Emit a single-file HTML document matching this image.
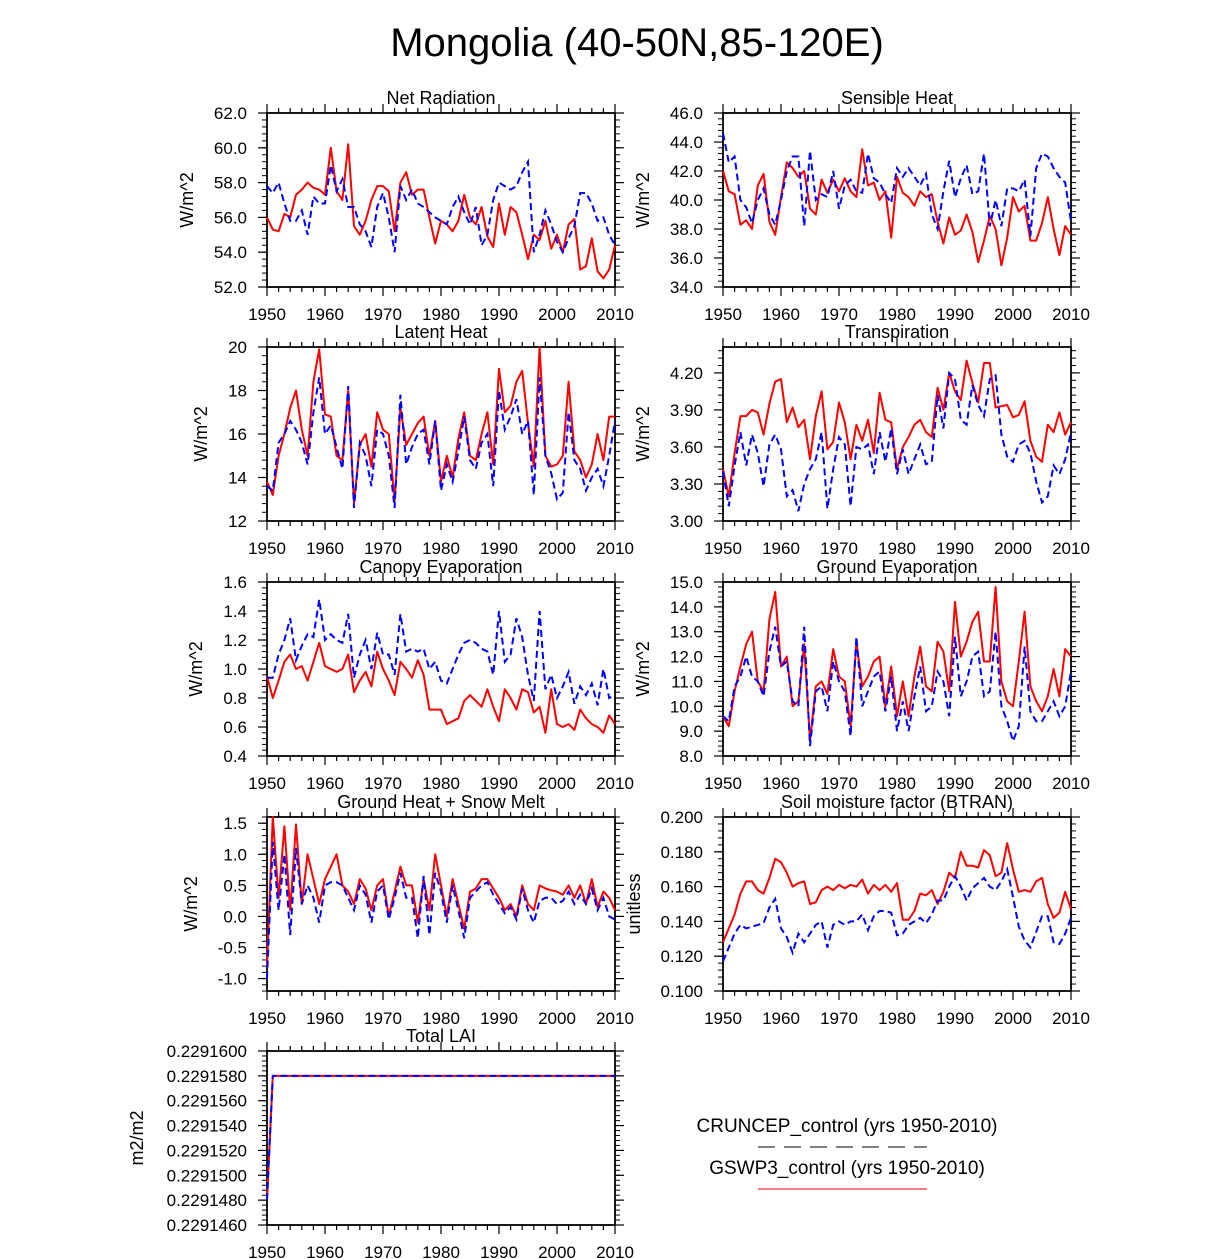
<!DOCTYPE html>
<html><head><meta charset="utf-8"><style>
body{margin:0;background:#fff;}
svg{display:block;font-family:"Liberation Sans",Arial,sans-serif;}
</style></head><body>
<svg id="chart" width="1224" height="1259" viewBox="0 0 1224 1259">
<text x="637" y="56" font-size="40" text-anchor="middle">Mongolia (40-50N,85-120E)</text>
<g>
<text x="847" y="1132" font-size="19" text-anchor="middle">CRUNCEP_control (yrs 1950-2010)</text>
<line x1="758" y1="1147" x2="927" y2="1147" stroke="#000" stroke-width="1" stroke-dasharray="17,9"/>
<text x="847" y="1174" font-size="19" text-anchor="middle">GSWP3_control (yrs 1950-2010)</text>
<line x1="758" y1="1189" x2="927" y2="1189" stroke="#e00" stroke-width="1"/>
</g>
</svg>
<script>
const years0 = 1950;
const xTicks = [1950,1960,1970,1980,1990,2000,2010];
const nrRed=[56.0,55.3,55.2,56.2,56.0,57.3,57.6,58.0,57.7,57.6,57.3,60.0,57.5,57.0,60.2,55.5,55.0,55.8,57.0,57.8,57.8,57.5,55.2,58.0,58.6,57.3,57.6,57.6,56.0,54.5,55.8,55.6,55.2,55.8,57.3,56.0,55.6,56.6,54.9,54.3,56.8,55.0,56.6,56.3,55.0,53.6,55.0,54.7,55.8,54.2,55.0,54.0,55.6,55.9,53.0,53.2,54.8,52.9,52.5,53.0,54.4];
const nrBlue=[57.8,57.4,58.0,56.8,55.8,55.8,56.4,55.0,57.2,56.8,56.8,59.0,57.5,58.2,56.6,56.6,55.6,55.2,54.3,56.6,57.4,56.0,54.0,57.8,57.0,57.6,56.8,56.6,56.3,56.0,55.8,55.6,56.6,57.2,56.3,55.6,56.6,54.4,55.0,57.0,58.0,57.8,57.6,57.8,58.6,59.2,54.0,55.0,56.4,55.6,54.6,54.0,54.8,55.5,57.4,57.4,56.8,55.8,56.0,55.0,54.4];
const shRed=[42.0,40.6,40.4,38.3,38.6,38.0,41.0,41.8,38.5,37.6,40.2,42.6,42.2,41.6,42.0,39.4,39.0,41.4,40.5,41.4,40.6,41.5,40.6,40.2,43.5,41.0,41.2,40.0,40.6,37.4,41.6,40.5,40.2,39.6,40.6,40.2,40.4,38.5,37.0,38.8,37.6,37.9,39.0,37.8,35.7,37.2,38.9,38.0,35.5,37.4,40.2,39.2,39.6,37.2,37.2,38.4,40.2,38.0,36.2,38.2,37.6];
const shBlue=[44.6,42.6,43.0,40.0,39.5,38.4,40.0,40.8,39.0,38.3,40.0,42.0,43.0,43.0,38.2,43.4,40.0,40.4,40.2,42.0,39.4,41.0,41.4,40.6,40.5,43.2,41.5,41.2,40.4,39.8,42.2,41.6,42.2,41.6,41.0,41.8,39.0,38.0,40.6,42.7,40.2,41.5,42.4,40.4,40.6,43.2,38.2,40.0,38.2,40.8,40.8,40.6,41.4,37.5,42.2,43.2,43.0,42.2,41.6,41.2,38.5];
const lhRed=[13.8,13.2,15.0,16.0,17.2,18.0,16.2,15.0,18.4,19.9,16.9,16.8,15.0,14.8,18.0,12.8,15.5,16.0,14.5,17.0,16.2,16.0,12.9,17.2,15.5,16.0,16.5,16.8,15.0,16.6,13.8,15.0,14.0,15.8,17.0,15.0,14.8,16.0,17.0,14.6,19.0,17.0,17.3,18.4,18.9,16.5,14.5,20.0,15.0,14.5,14.6,15.0,18.4,15.2,14.8,14.0,14.6,16.0,14.8,16.8,16.8];
const lhBlue=[13.6,13.4,15.6,16.0,16.6,16.2,15.6,14.6,17.0,18.6,16.0,16.4,15.4,14.4,18.2,12.6,15.6,15.0,13.6,16.2,16.0,15.0,12.6,17.8,14.6,15.4,16.0,16.2,14.6,16.6,13.4,14.6,13.8,15.2,16.8,14.8,14.4,15.6,16.0,13.6,18.0,16.2,16.8,17.6,16.0,16.6,13.2,18.6,15.0,14.2,13.0,13.3,17.0,14.8,14.4,13.4,14.0,14.4,13.6,15.0,16.6];
const trRed=[3.42,3.20,3.55,3.85,3.85,3.90,3.88,3.70,3.95,4.13,4.15,3.80,3.92,3.76,3.82,3.50,3.85,4.05,3.58,3.64,3.96,3.80,3.50,3.78,3.65,3.82,3.55,4.04,3.82,3.80,3.42,3.60,3.68,3.78,3.82,3.72,3.68,4.08,3.90,4.20,4.05,3.98,4.30,4.12,3.96,4.28,4.28,3.92,3.93,3.94,3.84,3.86,3.97,3.65,3.52,3.48,3.78,3.72,3.88,3.70,3.80];
const trBlue=[3.40,3.12,3.45,3.72,3.45,3.70,3.55,3.28,3.62,3.70,3.58,3.20,3.25,3.08,3.30,3.42,3.50,3.72,3.10,3.42,3.68,3.62,3.12,3.60,3.58,3.62,3.38,3.72,3.48,3.75,3.38,3.58,3.38,3.50,3.62,3.46,3.48,4.02,3.75,4.20,4.15,3.82,3.78,4.10,3.94,3.85,4.15,4.18,3.70,3.52,3.48,3.62,3.65,3.55,3.32,3.15,3.20,3.45,3.38,3.50,3.72];
const ceRed=[0.95,0.80,0.92,1.05,1.10,1.00,1.02,0.92,1.05,1.18,1.02,1.00,0.98,1.00,1.10,0.84,0.92,0.98,0.88,1.12,1.00,0.92,0.82,1.05,1.00,0.94,1.06,0.96,0.72,0.72,0.72,0.62,0.64,0.66,0.78,0.82,0.78,0.74,0.86,0.74,0.64,0.86,0.80,0.72,0.86,0.84,0.70,0.74,0.56,0.86,0.62,0.60,0.62,0.58,0.72,0.66,0.62,0.60,0.56,0.68,0.62];
const ceBlue=[0.94,0.94,1.10,1.20,1.35,1.06,1.16,1.24,1.22,1.48,1.20,1.24,1.20,1.18,1.38,0.94,1.10,1.20,1.00,1.25,1.10,1.10,0.96,1.38,1.12,1.14,1.12,1.14,1.00,1.05,0.92,0.90,1.00,1.10,1.18,1.20,1.18,1.14,1.12,0.96,1.40,1.05,1.10,1.35,1.22,0.96,0.78,1.40,0.86,0.96,0.80,0.88,0.98,0.76,0.88,0.82,0.90,0.75,1.00,0.80,0.82];
const geRed=[9.6,9.2,10.6,11.6,12.5,13.0,11.0,10.6,13.5,14.6,11.6,12.0,10.0,10.2,12.5,8.6,10.8,11.0,10.5,12.3,11.2,11.0,9.2,12.6,10.8,11.2,11.8,12.0,10.0,11.6,9.6,11.0,9.6,11.2,12.4,10.8,10.6,12.6,12.2,10.6,14.2,12.0,12.6,13.4,13.8,11.8,11.8,14.8,11.0,10.2,10.0,11.8,13.8,10.8,10.2,9.8,10.4,11.5,10.4,12.3,12.0];
const geBlue=[9.6,9.4,10.8,11.2,12.0,11.2,11.0,10.4,12.2,13.2,11.6,11.8,10.2,10.0,13.2,8.4,10.6,10.8,9.8,11.8,11.0,10.6,8.8,12.8,10.0,10.6,11.2,11.4,9.8,11.2,9.0,10.2,9.0,10.4,11.6,9.8,10.0,11.4,11.0,9.6,12.8,10.4,11.0,12.0,12.2,10.4,10.6,13.0,10.0,9.4,8.6,9.2,12.4,9.8,9.4,9.4,9.8,10.2,9.6,10.0,11.4];
const ghRed=[-0.8,1.6,0.3,1.45,0.1,1.48,0.2,1.0,0.6,0.2,0.6,0.8,1.0,0.5,0.4,0.2,0.6,0.45,0.1,0.5,0.6,0.0,0.4,0.8,0.5,0.5,-0.1,0.6,0.1,1.0,0.5,0.0,0.6,0.2,-0.2,0.4,0.45,0.6,0.6,0.45,0.3,0.1,0.2,0.0,0.5,0.2,0.1,0.5,0.45,0.42,0.4,0.35,0.5,0.3,0.5,0.2,0.6,0.15,0.4,0.3,0.1];
const ghBlue=[-1.0,1.2,0.1,1.0,-0.3,1.1,0.2,0.5,0.3,-0.1,0.5,0.55,0.55,0.5,0.3,0.1,0.5,0.35,-0.1,0.4,0.5,-0.05,0.3,0.7,0.3,0.3,-0.35,0.65,-0.3,0.7,0.4,-0.1,0.5,0.1,-0.35,0.3,0.4,0.5,0.55,0.35,0.2,0.05,0.15,-0.05,0.45,0.1,-0.1,0.25,0.3,0.3,0.2,0.25,0.4,0.2,0.35,0.2,0.45,0.1,0.3,0.0,-0.05];
const btRed=[0.128,0.136,0.144,0.156,0.163,0.163,0.158,0.156,0.165,0.176,0.174,0.168,0.160,0.162,0.163,0.150,0.151,0.158,0.160,0.158,0.161,0.159,0.161,0.160,0.164,0.156,0.161,0.158,0.161,0.157,0.162,0.141,0.141,0.146,0.156,0.155,0.158,0.150,0.157,0.168,0.165,0.180,0.172,0.172,0.171,0.181,0.178,0.166,0.168,0.185,0.170,0.157,0.158,0.157,0.163,0.165,0.150,0.142,0.145,0.157,0.147];
const btBlue=[0.117,0.125,0.133,0.138,0.136,0.137,0.138,0.139,0.148,0.153,0.136,0.131,0.122,0.133,0.128,0.133,0.138,0.140,0.125,0.138,0.140,0.138,0.140,0.140,0.144,0.135,0.143,0.146,0.146,0.145,0.132,0.133,0.138,0.140,0.142,0.139,0.144,0.152,0.152,0.160,0.166,0.160,0.152,0.159,0.162,0.165,0.160,0.158,0.163,0.170,0.154,0.137,0.129,0.125,0.134,0.143,0.143,0.128,0.127,0.133,0.142];
const laiRed=[0.229148].concat(new Array(60).fill(0.229158));
const laiBlue=[0.229148].concat(new Array(60).fill(0.229158));

const NS='http://www.w3.org/2000/svg';
const svg=document.getElementById('chart');
function mk(tag,attrs,parent){const e=document.createElementNS(NS,tag);for(const k in attrs)e.setAttribute(k,attrs[k]);(parent||svg).appendChild(e);return e;}

const panels=[
 {name:'net-radiation',title:'Net Radiation',x:267,y:113,ymin:52,ymax:62,step:2,dec:1,unit:'W/m^2',lx:193,red:nrRed,blue:nrBlue},
 {name:'sensible-heat',title:'Sensible Heat',x:723,y:113,ymin:34,ymax:46,step:2,dec:1,unit:'W/m^2',lx:649,red:shRed,blue:shBlue},
 {name:'latent-heat',title:'Latent Heat',x:267,y:347,ymin:12,ymax:20,step:2,dec:0,unit:'W/m^2',lx:207,red:lhRed,blue:lhBlue},
 {name:'transpiration',title:'Transpiration',x:723,y:347,ymin:3.0,ymax:4.41,step:0.3,dec:2,unit:'W/m^2',lx:649,red:trRed,blue:trBlue,tmax:4.2},
 {name:'canopy-evaporation',title:'Canopy Evaporation',x:267,y:582,ymin:0.4,ymax:1.6,step:0.2,dec:1,unit:'W/m^2',lx:202,red:ceRed,blue:ceBlue},
 {name:'ground-evaporation',title:'Ground Evaporation',x:723,y:582,ymin:8,ymax:15,step:1,dec:1,unit:'W/m^2',lx:649,red:geRed,blue:geBlue},
 {name:'ground-heat-snow-melt',title:'Ground Heat + Snow Melt',x:267,y:817,ymin:-1.2,ymax:1.6,step:0.5,dec:1,unit:'W/m^2',lx:197,red:ghRed,blue:ghBlue,tmin:-1.0,tmax:1.5},
 {name:'soil-moisture-factor',title:'Soil moisture factor (BTRAN)',x:723,y:817,ymin:0.1,ymax:0.2,step:0.02,dec:3,unit:'unitless',lx:640,red:btRed,blue:btBlue},
 {name:'total-lai',title:'Total LAI',x:267,y:1051,ymin:0.229146,ymax:0.22916,step:0.000002,dec:7,unit:'m2/m2',lx:143,red:laiRed,blue:laiBlue}
];
const W=348,H=174;
panels.forEach(p=>{
 const g=mk('g',{});
 
 
 const xs=yr=>p.x+(yr-1950)/60*W;
 const ys=v=>p.y+H-(v-p.ymin)/(p.ymax-p.ymin)*H;
 const t=mk('text',{x:p.x+W/2,y:p.y-9,'font-size':18,'text-anchor':'middle'},g);
 t.textContent=p.title;
 
 
 const yl=mk('text',{x:p.lx,y:p.y+H/2,'font-size':18,'text-anchor':'middle',transform:`rotate(-90 ${p.lx} ${p.y+H/2})`},g);
 yl.textContent=p.unit;
 
 
 for(let yr=1950;yr<=2010;yr+=2){
  const major=(yr%10===0), L=major?9:5, X=xs(yr);
  mk('line',{x1:X,y1:p.y+H,x2:X,y2:p.y+H+L,stroke:'#000','stroke-width':1.2},g);
  mk('line',{x1:X,y1:p.y,x2:X,y2:p.y-L,stroke:'#000','stroke-width':1.2},g);
 }
 xTicks.forEach(yr=>{
  const tx=mk('text',{x:xs(yr),y:p.y+H+33,'font-size':17,'text-anchor':'middle'},g);
  tx.textContent=String(yr);
  
  
 });
 const tmin=p.tmin!==undefined?p.tmin:p.ymin, tmax=p.tmax!==undefined?p.tmax:p.ymax;
 const nMaj=Math.round((tmax-tmin)/p.step);
 for(let i=0;i<=nMaj;i++){
  const v=tmin+i*p.step, Y=ys(v);
  mk('line',{x1:p.x,y1:Y,x2:p.x-9,y2:Y,stroke:'#000','stroke-width':1.2},g);
  mk('line',{x1:p.x+W,y1:Y,x2:p.x+W+9,y2:Y,stroke:'#000','stroke-width':1.2},g);
  const ty=mk('text',{x:p.x-20,y:Y+6,'font-size':17,'text-anchor':'end'},g);
  ty.textContent=v.toFixed(p.dec);
  
  
 }
 const ms=p.step/5;
 for(let v=tmin-5*ms;v<=p.ymax+1e-12;v+=ms){
  if(v<p.ymin-1e-12)continue;
  const Y=ys(v);
  mk('line',{x1:p.x,y1:Y,x2:p.x-5,y2:Y,stroke:'#000'},g);
  mk('line',{x1:p.x+W,y1:Y,x2:p.x+W+5,y2:Y,stroke:'#000'},g);
 }
 mk('rect',{x:p.x,y:p.y,width:W,height:H,fill:'none',stroke:'#000','stroke-width':1.8},g);
 const pts=a=>a.map((v,i)=>xs(years0+i).toFixed(1)+','+ys(v).toFixed(1)).join(' ');
 const r=mk('polyline',{points:pts(p.red),fill:'none',stroke:'#f00','stroke-width':2,'stroke-linejoin':'round'},g);
 
 
 const b=mk('polyline',{points:pts(p.blue),fill:'none',stroke:'#00f','stroke-width':2,'stroke-dasharray':'7,4'},g);
 
 
});
</script>
</body></html>
